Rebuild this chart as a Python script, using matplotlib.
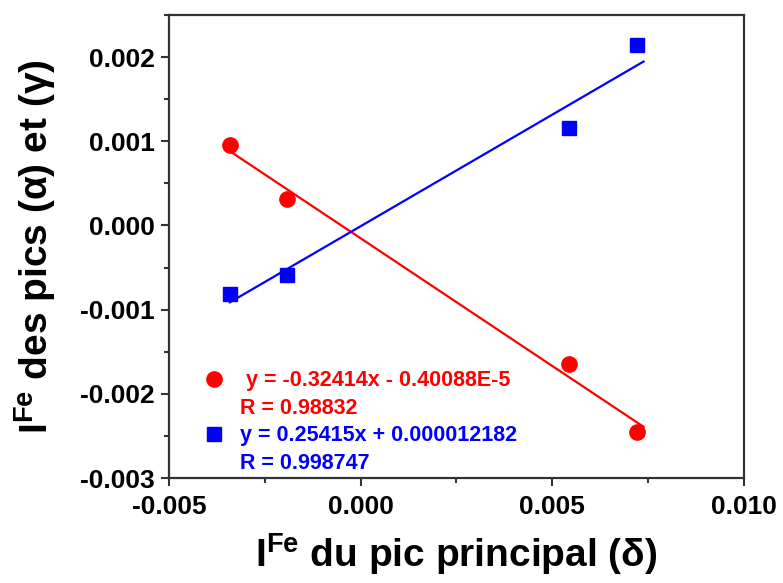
import numpy as np
import matplotlib.pyplot as plt
from matplotlib.lines import Line2D
from matplotlib.ticker import AutoMinorLocator

plt.rcParams['font.family'] = ['Liberation Sans', 'DejaVu Sans']
plt.rcParams['font.weight'] = 'bold'
plt.rcParams['mathtext.fontset'] = 'custom'
plt.rcParams['mathtext.bf'] = 'Liberation Sans:bold'
plt.rcParams['mathtext.rm'] = 'Liberation Sans:bold'
plt.rcParams['mathtext.default'] = 'bf'

# valeurs
x_delta = [-0.00341, -0.00193, 0.00544, 0.00720]
y_alpha = [0.00096, 0.00031, -0.00164, -0.002456]   # rouge
y_gamma = [-0.000813, -0.000583, 0.001155, 0.00214]  # bleu

eq_red = [' y = -0.32414x - 0.40088E-5', 'R = 0.98832']
eq_blue = ['y = 0.25415x + 0.000012182', 'R = 0.998747']

x_ticks = [-0.005, 0.000, 0.005, 0.010]
y_ticks = [-0.003, -0.002, -0.001, 0.000, 0.001, 0.002]

fig = plt.figure(figsize=(7.83, 5.83), dpi=100)
ax = fig.add_axes([0.2158, 0.1801, 0.7344, 0.7942])

x = np.array(x_delta)
xx = np.linspace(x.min(), x.max() + 0.00018, 50)

# ajustements linéaires
p_red = np.polyfit(x, y_alpha, 1)
p_blue = np.polyfit(x, y_gamma, 1)
ax.plot(xx, np.polyval(p_red, xx), color='#ff0000', lw=1.6, zorder=2)
ax.plot(xx, np.polyval(p_blue, xx), color='#0000ff', lw=1.6, zorder=2)

ax.plot(x, y_alpha, 'o', color='#ff0000', ms=11, ls='none', zorder=3)
ax.plot(x, y_gamma, 's', color='#0000ff', ms=9.5, ls='none', zorder=3)

ax.set_xlim(-0.005, 0.010)
ax.set_ylim(-0.003, 0.0025)
ax.set_xticks(x_ticks)
ax.set_yticks(y_ticks)
ax.set_xticklabels([f'{v:.3f}' for v in x_ticks])
ax.set_yticklabels([f'{v:.3f}' for v in y_ticks])
ax.xaxis.set_minor_locator(AutoMinorLocator(2))
ax.yaxis.set_minor_locator(AutoMinorLocator(2))
ax.tick_params(which='major', direction='out', length=6, width=1.5,
               labelsize=19, pad=4, colors='#333333', labelcolor='black')
ax.tick_params(which='minor', direction='out', length=3.5, width=1.5,
               colors='#333333')
ax.tick_params(axis='x', which='major', pad=6)
for s in ax.spines.values():
    s.set_linewidth(1.6)
    s.set_color('#333333')

ax.set_xlabel('I$^{Fe}$ du pic principal (δ)',
              fontsize=28, fontweight='bold', labelpad=9)
ax.set_ylabel('I$^{Fe}$ des pics (α) et (γ)',
              fontsize=28, fontweight='bold', labelpad=16)

empty = Line2D([], [], ls='none', marker='none')
handles = [Line2D([], [], ls='none', marker='o', color='#ff0000', ms=11), empty,
           Line2D([], [], ls='none', marker='s', color='#0000ff', ms=9.5), empty]
labels = eq_red + eq_blue
leg = ax.legend(handles, labels, loc='lower left', bbox_to_anchor=(0.035, -0.023),
                frameon=False, fontsize=15.5, handlelength=0.9, handletextpad=0.75,
                labelspacing=0.3, borderpad=0.2,
                labelcolor=['#ff0000', '#ff0000', '#0000ff', '#0000ff'])

fig.savefig('out.png', dpi=100)
